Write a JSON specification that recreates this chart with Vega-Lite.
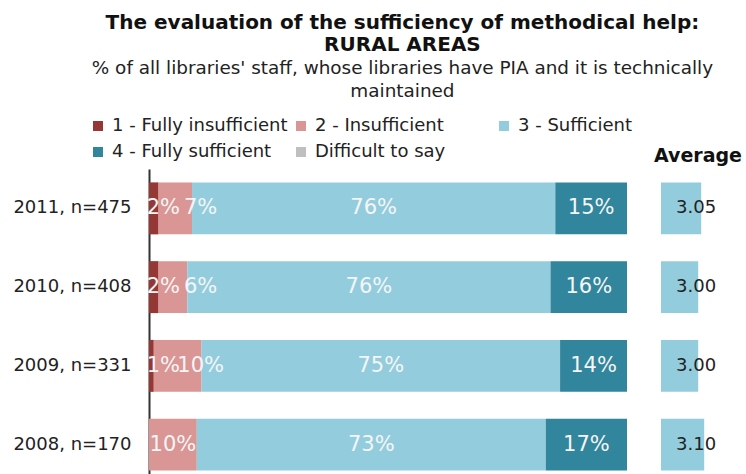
{
  "$schema": "https://vega.github.io/schema/vega-lite/v6.json",
  "padding": {"left": 12, "top": 12, "right": 0, "bottom": 0},
  "bounds": "flush",
  "spacing": 34,
  "background": "white",
  "title": {
    "text": ["The evaluation of the sufficiency of methodical help:", "RURAL AREAS"],
    "subtitle": ["% of all libraries' staff, whose libraries have PIA and it is technically", "maintained"],
    "anchor": "middle",
    "dx": 25,
    "font": "DejaVu Sans",
    "fontSize": 20,
    "fontWeight": "bold",
    "lineHeight": 22,
    "color": "#111111",
    "subtitleFont": "DejaVu Sans",
    "subtitleFontSize": 18.4,
    "subtitleLineHeight": 23,
    "subtitleColor": "#222222",
    "subtitlePadding": 4,
    "offset": 17
  },
  "datasets": {
    "dist": [
      {"label": "2011, n=475", "cat": "1 - Fully insufficient", "order": 1, "pct": 2},
      {"label": "2011, n=475", "cat": "2 - Insufficient", "order": 2, "pct": 7},
      {"label": "2011, n=475", "cat": "3 - Sufficient", "order": 3, "pct": 76},
      {"label": "2011, n=475", "cat": "4 - Fully sufficient", "order": 4, "pct": 15},
      {"label": "2011, n=475", "cat": "Difficult to say", "order": 5, "pct": 0},
      {"label": "2010, n=408", "cat": "1 - Fully insufficient", "order": 1, "pct": 2},
      {"label": "2010, n=408", "cat": "2 - Insufficient", "order": 2, "pct": 6},
      {"label": "2010, n=408", "cat": "3 - Sufficient", "order": 3, "pct": 76},
      {"label": "2010, n=408", "cat": "4 - Fully sufficient", "order": 4, "pct": 16},
      {"label": "2010, n=408", "cat": "Difficult to say", "order": 5, "pct": 0},
      {"label": "2009, n=331", "cat": "1 - Fully insufficient", "order": 1, "pct": 1},
      {"label": "2009, n=331", "cat": "2 - Insufficient", "order": 2, "pct": 10},
      {"label": "2009, n=331", "cat": "3 - Sufficient", "order": 3, "pct": 75},
      {"label": "2009, n=331", "cat": "4 - Fully sufficient", "order": 4, "pct": 14},
      {"label": "2009, n=331", "cat": "Difficult to say", "order": 5, "pct": 0},
      {"label": "2008, n=170", "cat": "1 - Fully insufficient", "order": 1, "pct": 0},
      {"label": "2008, n=170", "cat": "2 - Insufficient", "order": 2, "pct": 10},
      {"label": "2008, n=170", "cat": "3 - Sufficient", "order": 3, "pct": 73},
      {"label": "2008, n=170", "cat": "4 - Fully sufficient", "order": 4, "pct": 17},
      {"label": "2008, n=170", "cat": "Difficult to say", "order": 5, "pct": 0}
    ],
    "avg": [
      {"label": "2011, n=475", "avg": 3.05},
      {"label": "2010, n=408", "avg": 3.00},
      {"label": "2009, n=331", "avg": 3.00},
      {"label": "2008, n=170", "avg": 3.10}
    ]
  },
  "hconcat": [
    {
      "width": 478,
      "height": 315,
      "data": {"name": "dist"},
      "transform": [
        {"stack": "pct", "groupby": ["label"], "sort": [{"field": "order"}], "as": ["x0", "x1"]},
        {"calculate": "datum.order == 1 ? max((datum.x0 + datum.x1) / 2, 3) : (datum.order == 2 && datum.x0 > 0 ? max((datum.x0 + datum.x1) / 2, 10.8) : (datum.x0 + datum.x1) / 2)", "as": "mid"},
        {"calculate": "datum.pct + '%'", "as": "txt"}
      ],
      "encoding": {
        "y": {
          "field": "label",
          "type": "nominal",
          "sort": ["2011, n=475", "2010, n=408", "2009, n=331", "2008, n=170"],
          "scale": {"paddingInner": 0.34, "paddingOuter": 0.17},
          "axis": {
            "title": null,
            "ticks": false,
            "labelPadding": 18,
            "labelFont": "DejaVu Sans",
            "labelFontSize": 18,
            "labelColor": "#222222",
            "domainColor": "#333333",
            "domainWidth": 2
          }
        }
      },
      "layer": [
        {
          "mark": {"type": "bar"},
          "encoding": {
            "x": {"field": "x0", "type": "quantitative", "scale": {"domain": [0, 100], "nice": false}, "axis": null},
            "x2": {"field": "x1"},
            "color": {
              "field": "cat",
              "type": "nominal",
              "scale": {
                "domain": ["1 - Fully insufficient", "2 - Insufficient", "3 - Sufficient", "4 - Fully sufficient", "Difficult to say"],
                "range": ["#953735", "#D99694", "#93CDDD", "#31859C", "#BFBFBF"]
              },
              "legend": {
                "title": null,
                "orient": "none",
                "legendX": -60,
                "legendY": -52,
                "direction": "horizontal",
                "columns": 3,
                "gridAlign": "all",
                "columnPadding": 4,
                "rowPadding": 8,
                "symbolType": "square",
                "symbolSize": 100,
                "symbolStrokeWidth": 0,
                "symbolOffset": 0,
                "labelOffset": 5,
                "labelFont": "DejaVu Sans",
                "labelFontSize": 18,
                "labelColor": "#222222",
                "labelLimit": 400
              }
            }
          }
        },
        {
          "transform": [{"filter": "datum.pct > 0"}],
          "mark": {"type": "text", "font": "DejaVu Sans", "fontSize": 21, "color": "#F5F5F5", "align": "center", "baseline": "middle"},
          "encoding": {
            "x": {"field": "mid", "type": "quantitative"},
            "text": {"field": "txt"}
          }
        }
      ]
    },
    {
      "width": 60,
      "height": 315,
      "data": {"name": "avg"},
      "title": {"text": "Average", "font": "DejaVu Sans", "fontSize": 19, "fontWeight": "bold", "color": "#111111", "anchor": "middle", "dx": 7, "offset": 3},
      "encoding": {
        "y": {
          "field": "label",
          "type": "nominal",
          "sort": ["2011, n=475", "2010, n=408", "2009, n=331", "2008, n=170"],
          "scale": {"paddingInner": 0.34, "paddingOuter": 0.17},
          "axis": null
        }
      },
      "layer": [
        {
          "mark": {"type": "bar", "color": "#93CDDD"},
          "encoding": {
            "x": {"field": "avg", "type": "quantitative", "scale": {"domain": [2.38, 3.38], "zero": false, "nice": false}, "axis": null},
            "x2": {"datum": 2.38}
          }
        },
        {
          "mark": {"type": "text", "font": "DejaVu Sans", "fontSize": 18, "color": "#222222", "align": "center", "baseline": "middle"},
          "encoding": {
            "x": {"datum": 2.965, "type": "quantitative"},
            "text": {"field": "avg", "type": "quantitative", "format": ".2f"}
          }
        }
      ]
    }
  ],
  "config": {
    "view": {"stroke": null}
  }
}
